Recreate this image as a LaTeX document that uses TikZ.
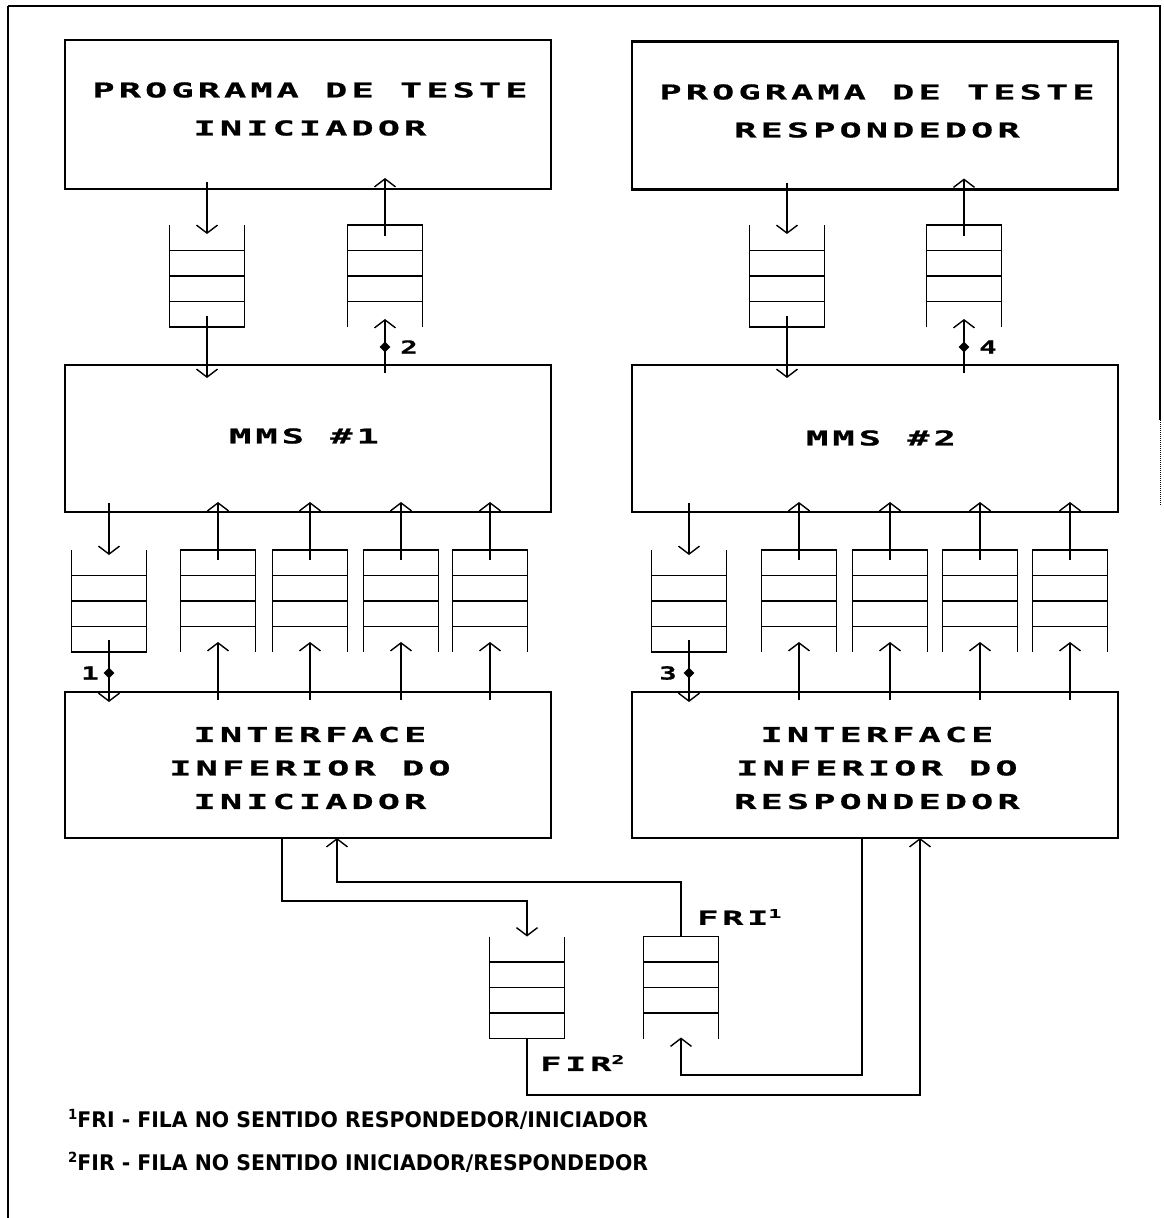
\documentclass[tikz,border=0pt]{standalone}
\usepackage{fontspec}
\usetikzlibrary{arrows.meta,calc,shapes.geometric}
\newfontfamily\dotfont{DejaVu Sans Mono Bold}[FakeStretch=1.8,LetterSpace=20,FakeBold=0.8]
\newfontfamily\lblfont{DejaVu Sans Mono Bold}[FakeStretch=1.6,FakeBold=0.8]
\newfontfamily\notefont{DejaVu Sans Bold}[FakeStretch=0.95]
\newcommand\upnum[1]{\raisebox{7pt}{\fontsize{12}{12}\selectfont #1}}
\newcommand\noteup[1]{\raisebox{8pt}{\fontsize{14}{14}\selectfont #1}}
\tikzset{
  box/.style={draw, line width=2.4pt, inner sep=0pt, outer sep=0pt, minimum width=486pt},
  bigtext/.style={font=\dotfont\fontsize{20.5}{38}\selectfont, align=center, inner sep=0pt},
  iftext/.style={font=\dotfont\fontsize{20.5}{33.5}\selectfont, align=center},
  qnode/.style={draw=none, inner sep=0pt, outer sep=0pt, minimum width=75pt, minimum height=102pt},
  qwall/.style={line width=1.8pt},
  conn/.style={line width=1.2pt, -{Straight Barb[length=8pt,width=21pt,line width=1.4pt]}},
  dia/.style={diamond, fill=black, draw=none, inner sep=0pt, minimum size=11pt},
  numlbl/.style={font=\lblfont\fontsize{18}{18}\selectfont, inner sep=0pt},
  fqlbl/.style={font=\dotfont\fontsize{19.5}{19.5}\selectfont, inner sep=0pt},
  note/.style={font=\notefont\fontsize{21.5}{21.5}\selectfont, inner sep=0pt, anchor=west},
}
% queue with open top (input from above)
\newcommand\qdown[2]{%
  \node[qnode] (#1) at (#2) {};
  \draw[qwall] (#1.north west) -- (#1.south west) -- (#1.south east) -- (#1.north east);
  \foreach \f in {0.25,0.5,0.75}
    \draw[qwall] ($(#1.north west)!\f!(#1.south west)$) -- ($(#1.north east)!\f!(#1.south east)$);
}
% queue with open bottom (input from below)
\newcommand\qup[2]{%
  \node[qnode] (#1) at (#2) {};
  \draw[qwall] (#1.south west) -- (#1.north west) -- (#1.north east) -- (#1.south east);
  \foreach \f in {0.25,0.5,0.75}
    \draw[qwall] ($(#1.north west)!\f!(#1.south west)$) -- ($(#1.north east)!\f!(#1.south east)$);
}
\begin{document}
\begin{tikzpicture}[x=1pt,y=-1pt]
\useasboundingbox (0,0) rectangle (1163,1218);
% frame
\draw[line width=2.4pt] (8,1218) -- (8,6);
\draw[line width=1.4pt] (8,6) -- (1160,6) -- (1160,420);
\draw[line width=1pt, densely dotted] (1160,420) -- (1160,505);

% big boxes
\node[box, minimum height=149pt] (PTI) at (308,114.5) {};
\node[bigtext] (PTItxt) at (310,109) {PROGRAMA DE TESTE\\INICIADOR};
\node[box, minimum height=148pt] (PTR) at (875,115.5) {};
\node[bigtext] (PTRtxt) at (877,111) {PROGRAMA DE TESTE\\RESPONDEDOR};
\node[box, minimum height=147pt] (MMS1) at (308,438.5) {};
\node[bigtext] (MMS1txt) at (304,436) {MMS \#1};
\node[box, minimum height=147pt] (MMS2) at (875,438.5) {};
\node[bigtext] (MMS2txt) at (881,438) {MMS \#2};
\node[box, minimum height=146pt] (IF1) at (308,765) {};
\node[iftext] (IF1txt) at (310,768) {INTERFACE\\INFERIOR DO\\INICIADOR};
\node[box, minimum height=146pt] (IF2) at (875,765) {};
\node[iftext] (IF2txt) at (877,768) {INTERFACE\\INFERIOR DO\\RESPONDEDOR};

% top queues
\qdown{q1}{207,276}
\qup{q2}{385,276}
\qdown{q3}{787,276}
\qup{q4}{964,276}

% top arrows, left
\draw[conn] ($(q1.north |- PTI.south)+(0,-7)$) -- ($(q1.north)+(0,9)$);
\draw[conn] ($(q1.south)+(0,-11)$) -- ($(q1.south |- MMS1.north)+(0,13)$);
\draw[conn] ($(q2.south |- MMS1.north)+(0,8)$) -- ($(q2.south)+(0,-8)$);
\draw[conn] ($(q2.north)+(0,11)$) -- ($(q2.north |- PTI.south)+(0,-11)$);
\node[dia] (d2) at ($(q2.south)+(0,20)$) {};
\node[numlbl] (n2) at ($(d2)+(24,0)$) {2};
% top arrows, right
\draw[conn] ($(q3.north |- PTR.south)+(0,-7)$) -- ($(q3.north)+(0,9)$);
\draw[conn] ($(q3.south)+(0,-11)$) -- ($(q3.south |- MMS2.north)+(0,13)$);
\draw[conn] ($(q4.south |- MMS2.north)+(0,8)$) -- ($(q4.south)+(0,-8)$);
\draw[conn] ($(q4.north)+(0,11)$) -- ($(q4.north |- PTR.south)+(0,-11)$);
\node[dia] (d4) at ($(q4.south)+(0,20)$) {};
\node[numlbl] (n4) at ($(d4)+(24,0)$) {4};

% middle queues, left
\qdown{q5}{109,601}
\qup{q6}{218,601}
\qup{q7}{310,601}
\qup{q8}{401,601}
\qup{q9}{490,601}
% middle queues, right
\qdown{q10}{689,601}
\qup{q11}{799,601}
\qup{q12}{890,601}
\qup{q13}{980,601}
\qup{q14}{1070,601}

% middle arrows, left
\draw[conn] ($(q5.north |- MMS1.south)+(0,-9)$) -- ($(q5.north)+(0,5)$);
\draw[conn] ($(q5.south)+(0,-12)$) -- ($(q5.south |- IF1.north)+(0,10)$);
\node[dia] (d1) at ($(q5.south)+(0,21)$) {};
\node[numlbl] (n1) at ($(d1)+(-19,0)$) {1};
\foreach \q in {q6,q7,q8,q9}{
  \draw[conn] ($(\q.south |- IF1.north)+(0,8)$) -- ($(\q.south)+(0,-10)$);
  \draw[conn] ($(\q.north)+(0,10)$) -- ($(\q.north |- MMS1.south)+(0,-10)$);
}
% middle arrows, right
\draw[conn] ($(q10.north |- MMS2.south)+(0,-9)$) -- ($(q10.north)+(0,5)$);
\draw[conn] ($(q10.south)+(0,-12)$) -- ($(q10.south |- IF2.north)+(0,10)$);
\node[dia] (d3) at ($(q10.south)+(0,21)$) {};
\node[numlbl] (n3) at ($(d3)+(-21,0)$) {3};
\foreach \q in {q11,q12,q13,q14}{
  \draw[conn] ($(\q.south |- IF2.north)+(0,8)$) -- ($(\q.south)+(0,-10)$);
  \draw[conn] ($(\q.north)+(0,10)$) -- ($(\q.north |- MMS2.south)+(0,-10)$);
}

% bottom queues
\qdown{fir}{527,987.5}
\qup{fri}{681,987.5}
\node[fqlbl, anchor=west] (firlbl) at (540,1063) {FIR\upnum{2}};
\node[fqlbl, anchor=west] (frilbl) at (697,917) {FRI\upnum{1}};

% bottom wiring
\coordinate (wa) at (282,901);
\coordinate (wb) at (920,1095);
\coordinate (wc) at (862,1075);
\coordinate (wd) at (337,882);
\draw[conn] (IF1.south -| wa) -- (wa) -| (fir.north);
\draw[conn] (fir.south) |- (wb) -- (wb |- IF2.south);
\draw[conn] (IF2.south -| wc) -- (wc) -| ($(fri.south)+(0,-1)$);
\draw[conn] (fri.north) |- (wd) -- (wd |- IF1.south);

% footnotes
\node[note] (fn1) at (68,1119) {\noteup{1}FRI - FILA NO SENTIDO RESPONDEDOR/INICIADOR};
\node[note] (fn2) at (68,1162) {\noteup{2}FIR - FILA NO SENTIDO INICIADOR/RESPONDEDOR};
\end{tikzpicture}
\end{document}
